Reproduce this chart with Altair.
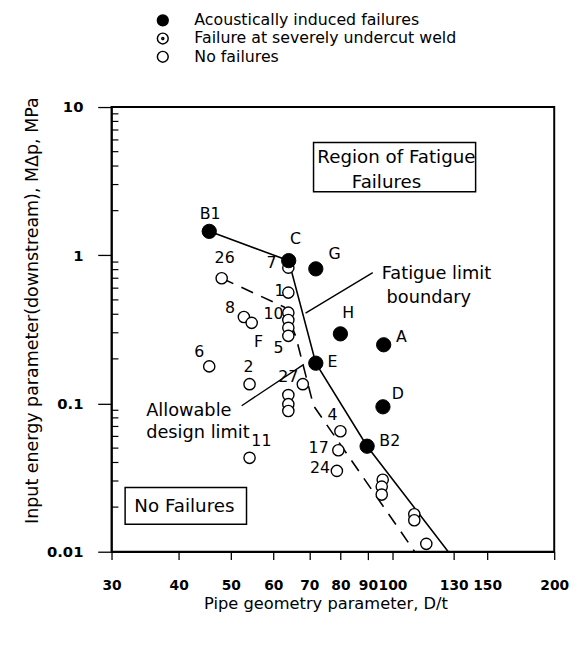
import math
import altair as alt
import pandas as pd

# ---------------- data ----------------
CATS = ["Acoustically induced failures", "Failure at severely undercut weld", "No failures"]

# Acoustically induced failures (filled dots)
fail_labels = ["B1", "C", "G", "H", "A", "E", "D", "B2"]
fail_dt = [45.6, 64.1, 72.0, 80.0, 96.3, 72.0, 96.0, 89.7]
fail_mdp = [1.45, 0.92, 0.81, 0.295, 0.249, 0.187, 0.095, 0.0515]

# No failures (open circles)
nf_labels = ["26", "7", "1", "10", "", "", "5", "8", "F", "6", "2", "", "27", "", "",
             "11", "4", "17", "24", "", "", "", "", "", ""]
nf_dt = [48.1, 64.0, 64.0, 64.0, 64.0, 64.0, 64.0, 52.9, 54.7, 45.6, 54.2, 68.1, 64.0, 64.0, 64.0,
         54.2, 80.0, 79.3, 78.8, 95.9, 95.5, 95.5, 109.8, 109.8, 115.6]
nf_mdp = [0.70, 0.825, 0.56, 0.41, 0.366, 0.324, 0.286, 0.383, 0.35, 0.178, 0.135, 0.135, 0.114, 0.099, 0.089,
          0.043, 0.065, 0.0484, 0.0351, 0.0306, 0.0275, 0.0243, 0.0179, 0.0163, 0.0113]

# Fatigue limit boundary (solid) and allowable design limit (dashed)
solid_dt = [45.6, 64.1, 72.0, 89.7, 127.0]
solid_mdp = [1.45, 0.92, 0.187, 0.0515, 0.01]
dashed_dt = [48.1, 62.9, 66.1, 71.3, 110.0]
dashed_mdp = [0.70, 0.447, 0.282, 0.0966, 0.01]

# Annotation boxes / texts / pointer segments (data coordinates)
box_x1 = [71.3, 31.8]
box_x2 = [142.8, 53.5]
box_y1 = [2.68, 0.01535]
box_y2 = [5.77, 0.0271]

center_text = ["Region of Fatigue", "Failures", "No Failures"]
center_dt = [101.7, 97.5, 41.0]
center_mdp = [4.58, 3.13, 0.0202]

left_text = ["Fatigue limit", "boundary", "Allowable", "design limit"]
left_dt = [95.5, 97.5, 34.8, 34.8]
left_mdp = [0.751, 0.513, 0.0893, 0.0628]

seg_x1 = [91.9, 52.4]
seg_y1 = [0.763, 0.0966]
seg_x2 = [68.9, 68.4]
seg_y2 = [0.407, 0.1836]

x_ticks = [30, 40, 50, 60, 70, 80, 90, 100, 130, 150, 200]
y_ticks = [0.01, 0.1, 1, 10]
y_minor = [d * m for d in (0.01, 0.1, 1) for m in range(2, 10)]

# label offsets (px) relative to their point
label_offsets = {
    "B1": (1, -18), "C": (7, -22), "G": (19, -15), "H": (8, -21), "A": (18, -8),
    "E": (17, -1), "D": (15, -13), "B2": (23, -5),
    "26": (3, -20), "7": (-17, -5), "1": (-9, -2), "10": (-15, 1), "5": (-10, 12),
    "8": (-14, -9), "F": (7, 19), "6": (-10, -15), "2": (-1, -17), "27": (0, -18),
    "11": (12, -17), "4": (-8, -16), "17": (-20, -2), "24": (-17, -3),
}

# ---------------- layout ----------------
W, H = 449, 451
XDOM = [30, 200]
YDOM = [0.01, 10]
PX_X = W / math.log10(XDOM[1] / XDOM[0])
PX_Y = H / math.log10(YDOM[1] / YDOM[0])
FONT = "DejaVu Sans"

pts_fail = pd.DataFrame({"dt": fail_dt, "mdp": fail_mdp, "type": CATS[0]})
pts_nf = pd.DataFrame({"dt": nf_dt, "mdp": nf_mdp, "type": CATS[2]})

lab_rows = []
for labs, xs, ys in ((fail_labels, fail_dt, fail_mdp), (nf_labels, nf_dt, nf_mdp)):
    for l, x, y in zip(labs, xs, ys):
        if l:
            dx, dy = label_offsets[l]
            lab_rows.append({"t": l, "dt": x * 10 ** (dx / PX_X), "mdp": y * 10 ** (-dy / PX_Y)})
labels_df = pd.DataFrame(lab_rows)

solid_df = pd.DataFrame({"dt": solid_dt, "mdp": solid_mdp, "o": range(len(solid_dt))})
dashed_df = pd.DataFrame({"dt": dashed_dt, "mdp": dashed_mdp, "o": range(len(dashed_dt))})
box_df = pd.DataFrame({"x1": box_x1, "x2": box_x2, "y1": box_y1, "y2": box_y2})
ctext_df = pd.DataFrame({"t": center_text, "dt": center_dt, "mdp": center_mdp})
ltext_df = pd.DataFrame({"t": left_text, "dt": left_dt, "mdp": left_mdp})
seg_df = pd.DataFrame({"x1": seg_x1, "y1": seg_y1, "x2": seg_x2, "y2": seg_y2})
minor_df = pd.DataFrame({"v": y_minor})

xscale = alt.Scale(type="log", domain=XDOM, nice=False)
yscale = alt.Scale(type="log", domain=YDOM, nice=False)

xaxis = alt.Axis(values=x_ticks, format="d", title="Pipe geometry parameter, D/t",
                 labelFont=FONT, labelFontWeight="bold", labelFontSize=14, labelFlush=False,
                 labelOverlap=False, tickSize=8, labelPadding=19,
                 titleFont=FONT, titleFontSize=16.5, titleFontWeight="normal",
                 titleY=53, titleX=217, titleBaseline="middle", titleAlign="center", grid=False)
yaxis = alt.Axis(values=y_ticks, format="~g", title="Input energy parameter(downstream), M\u0394p, MPa",
                 labelFont=FONT, labelFontWeight="bold", labelFontSize=15, labelOverlap=False,
                 tickSize=14, labelPadding=15,
                 titleFont=FONT, titleFontSize=17.7, titleFontWeight="normal",
                 titleX=-80, titleY=206, titleBaseline="middle", titleAlign="center", grid=False)


def X(f):
    return alt.X(f, type="quantitative", scale=xscale, axis=xaxis)


def Y(f):
    return alt.Y(f, type="quantitative", scale=yscale, axis=yaxis)


TARGET = ("M-1,0A1,1 0 1,0 1,0A1,1 0 1,0 -1,0Z "
          "M-0.18,0A0.18,0.18 0 1,0 0.18,0A0.18,0.18 0 1,0 -0.18,0Z")
legend = alt.Legend(title=None, orient="none", legendX=44, legendY=-96,
                    labelFont=FONT, labelFontSize=16, labelColor="black", labelLimit=500,
                    labelOffset=24, rowPadding=0.5, symbolSize=120, symbolStrokeWidth=1.5,
                    symbolStrokeColor="black")
shape_enc = alt.Shape("type:N", scale=alt.Scale(domain=CATS, range=["circle", TARGET, "circle"]),
                      legend=legend)
fill_enc = alt.Fill("type:N", scale=alt.Scale(domain=CATS, range=["black", "white", "white"]),
                    legend=legend)
stroke_enc = alt.Stroke("type:N", scale=alt.Scale(domain=CATS, range=["black", "black", "black"]),
                        legend=legend)

boxes = alt.Chart(box_df).mark_rect(fillOpacity=0, stroke="black", strokeWidth=1.5).encode(
    x=X("x1"), x2="x2", y=Y("y1"), y2="y2")

solid = alt.Chart(solid_df).mark_line(color="black", strokeWidth=1.6, clip=True).encode(
    x=X("dt"), y=Y("mdp"), order="o:Q")
dashed = alt.Chart(dashed_df).mark_line(color="black", strokeWidth=1.6, strokeDash=[13, 9], clip=True).encode(
    x=X("dt"), y=Y("mdp"), order="o:Q")

segs = alt.Chart(seg_df).mark_rule(color="black", strokeWidth=1.4).encode(
    x=X("x1"), y=Y("y1"), x2="x2", y2="y2")

minor = alt.Chart(minor_df).mark_rule(color="black", strokeWidth=1.2).encode(
    y=Y("v"), x=alt.value(0), x2=alt.value(7))

open_pts = alt.Chart(pts_nf).mark_point(size=130, strokeWidth=1.4, opacity=1,
                                        fillOpacity=1).encode(
    x=X("dt"), y=Y("mdp"), shape=shape_enc, fill=fill_enc, stroke=stroke_enc)
filled_pts = alt.Chart(pts_fail).mark_point(size=210, strokeWidth=1, opacity=1,
                                            fillOpacity=1).encode(
    x=X("dt"), y=Y("mdp"), shape=shape_enc, fill=fill_enc, stroke=stroke_enc)

labels = alt.Chart(labels_df).mark_text(font=FONT, fontSize=16, color="black",
                                        align="center", baseline="middle").encode(
    x=X("dt"), y=Y("mdp"), text="t:N")

ctext = alt.Chart(ctext_df).mark_text(font=FONT, fontSize=18.5, color="black",
                                      align="center", baseline="middle").encode(
    x=X("dt"), y=Y("mdp"), text="t:N")
ltext = alt.Chart(ltext_df).mark_text(font=FONT, fontSize=18, color="black",
                                      align="left", baseline="middle").encode(
    x=X("dt"), y=Y("mdp"), text="t:N")

chart = alt.layer(boxes, solid, dashed, segs, minor, open_pts, filled_pts, labels, ctext, ltext).properties(
    width=W, height=H,
    autosize=alt.AutoSizeParams(type="none"),
    padding={"left": 105, "top": 96, "right": 16, "bottom": 80},
    background="white"
).configure_view(stroke="black", strokeWidth=2).configure_axis(
    domainColor="black", domainWidth=1.5, tickColor="black", tickWidth=1.3,
    labelColor="black", titleColor="black"
)

chart.save("out.html", embed_options={"renderer": "svg", "actions": False})
